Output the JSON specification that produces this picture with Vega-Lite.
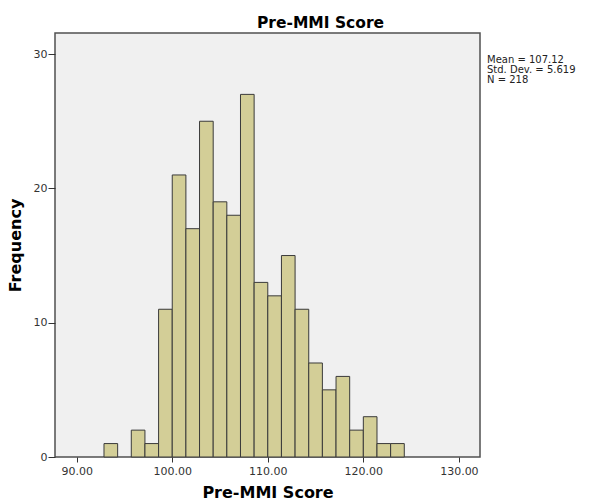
{
  "$schema": "https://vega.github.io/schema/vega-lite/v6.json",
  "width": 425,
  "height": 424,
  "autosize": {"type": "none"},
  "padding": {"left": 55, "top": 33, "right": 111, "bottom": 47},
  "background": "white",
  "title": {
    "text": "Pre-MMI Score",
    "font": "DejaVu Sans",
    "fontSize": 15.5,
    "fontWeight": "bold",
    "color": "black",
    "anchor": "middle",
    "dx": 53,
    "baseline": "alphabetic",
    "offset": 7,
    "dy": 17
  },
  "config": {
    "view": {"fill": "#F0F0F0", "stroke": "#505050", "strokeWidth": 1.5},
    "axis": {
      "labelFont": "DejaVu Sans",
      "labelFontSize": 11,
      "labelColor": "#333333",
      "titleFont": "DejaVu Sans",
      "titleFontSize": 16,
      "titleFontWeight": "bold",
      "titleColor": "black",
      "tickColor": "#333333",
      "domain": false,
      "grid": false
    }
  },
  "layer": [
    {
      "data": {
        "values": [
          {"bin_start": 92.857, "bin_end": 94.286, "count": 1},
          {"bin_start": 95.714, "bin_end": 97.143, "count": 2},
          {"bin_start": 97.143, "bin_end": 98.571, "count": 1},
          {"bin_start": 98.571, "bin_end": 100.0, "count": 11},
          {"bin_start": 100.0, "bin_end": 101.429, "count": 21},
          {"bin_start": 101.429, "bin_end": 102.857, "count": 17},
          {"bin_start": 102.857, "bin_end": 104.286, "count": 25},
          {"bin_start": 104.286, "bin_end": 105.714, "count": 19},
          {"bin_start": 105.714, "bin_end": 107.143, "count": 18},
          {"bin_start": 107.143, "bin_end": 108.571, "count": 27},
          {"bin_start": 108.571, "bin_end": 110.0, "count": 13},
          {"bin_start": 110.0, "bin_end": 111.429, "count": 12},
          {"bin_start": 111.429, "bin_end": 112.857, "count": 15},
          {"bin_start": 112.857, "bin_end": 114.286, "count": 11},
          {"bin_start": 114.286, "bin_end": 115.714, "count": 7},
          {"bin_start": 115.714, "bin_end": 117.143, "count": 5},
          {"bin_start": 117.143, "bin_end": 118.571, "count": 6},
          {"bin_start": 118.571, "bin_end": 120.0, "count": 2},
          {"bin_start": 120.0, "bin_end": 121.429, "count": 3},
          {"bin_start": 121.429, "bin_end": 122.857, "count": 1},
          {"bin_start": 122.857, "bin_end": 124.286, "count": 1}
        ]
      },
      "mark": {"type": "bar", "fill": "#D3CE97", "stroke": "#3A3A3A", "strokeWidth": 1},
      "encoding": {
        "x": {
          "field": "bin_start",
          "type": "quantitative",
          "title": "Pre-MMI Score",
          "scale": {"domain": [87.73, 132.21], "nice": false, "zero": false},
          "axis": {"values": [90, 100, 110, 120, 130], "format": ".2f", "tickSize": 5, "labelPadding": 3, "titlePadding": 8}
        },
        "x2": {"field": "bin_end"},
        "y": {
          "field": "count",
          "type": "quantitative",
          "title": "Frequency",
          "scale": {"domain": [0, 31.57], "nice": false},
          "axis": {"values": [0, 10, 20, 30], "tickSize": 7, "labelPadding": 1, "titlePadding": 10}
        },
        "y2": {"datum": 0}
      }
    },
    {
      "data": {"values": [{"stats": "Mean = 107.12\nStd. Dev. = 5.619\nN = 218"}]},
      "mark": {"type": "text", "align": "left", "baseline": "top", "dx": 7, "dy": 1, "lineBreak": "\n", "font": "DejaVu Sans", "fontSize": 10, "lineHeight": 10, "color": "#222222"},
      "encoding": {
        "x": {"datum": 132.21, "type": "quantitative"},
        "y": {"datum": 30, "type": "quantitative"},
        "text": {"field": "stats"}
      }
    }
  ]
}
